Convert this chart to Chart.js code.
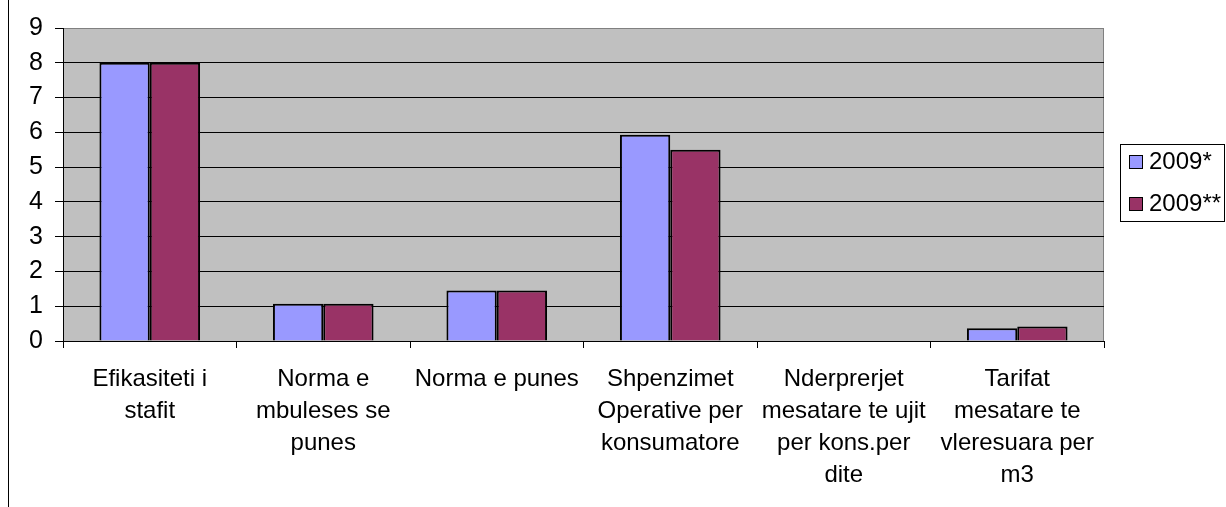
<!DOCTYPE html>
<html>
<head>
<meta charset="utf-8">
<script src="https://cdn.jsdelivr.net/npm/chart.js@4/dist/chart.umd.min.js"></script>
<style>
  html, body { margin: 0; padding: 0; background: #fff; }
  #wrap { width: 1226px; height: 507px; position: relative; }
</style>
</head>
<body>
<div id="wrap"><canvas id="chart" width="1226" height="507"></canvas></div>
<script>
// categories and values
const categories = [
  ["Efikasiteti i", "stafit"],
  ["Norma e", "mbuleses se", "punes"],
  ["Norma e punes"],
  ["Shpenzimet", "Operative per", "konsumatore"],
  ["Nderprerjet", "mesatare te ujit", "per kons.per", "dite"],
  ["Tarifat", "mesatare te", "vleresuara per", "m3"]
];
const seriesNames = ["2009*", "2009**"];
const values2009a = [8, 1.07, 1.45, 5.93, 0, 0.37];
const values2009b = [8, 1.07, 1.45, 5.5, 0, 0.42];
const yTicks = [0, 1, 2, 3, 4, 5, 6, 7, 8, 9];

const colors = ["#9999FF", "#993366"];
const FONT = "'Liberation Sans', Arial, sans-serif";

// grey plot area, frame line and legend box
const decor = {
  id: 'decor',
  beforeDraw(chart) {
    const { ctx, chartArea: a } = chart;
    ctx.save();
    ctx.fillStyle = '#C0C0C0';
    ctx.fillRect(a.left, a.top, a.right - a.left, a.bottom - a.top);
    ctx.strokeStyle = '#808080';
    ctx.lineWidth = 1;
    ctx.beginPath();
    ctx.moveTo(a.left, a.top + 0.5);
    ctx.lineTo(a.right - 0.5, a.top + 0.5);
    ctx.lineTo(a.right - 0.5, a.bottom);
    ctx.stroke();
    // outer frame line on the left
    ctx.strokeStyle = '#000';
    ctx.beginPath();
    ctx.moveTo(8.5, 0);
    ctx.lineTo(8.5, chart.height);
    ctx.stroke();
    ctx.restore();
  },
  afterDraw(chart) {
    const { ctx } = chart;
    ctx.save();
    const bx = 1120.5, by = 144.5, bw = 104, bh = 77;
    ctx.strokeStyle = '#000';
    ctx.lineWidth = 1;
    ctx.strokeRect(bx, by, bw, bh);
    ctx.font = '24px ' + FONT;
    ctx.textBaseline = 'middle';
    chart.data.datasets.forEach((ds, i) => {
      const cy = 162 + i * 42;
      ctx.fillStyle = ds.backgroundColor;
      ctx.fillRect(1129.5, cy - 6.5, 13, 13);
      ctx.strokeRect(1129.5, cy - 6.5, 13, 13);
      ctx.fillStyle = '#000';
      ctx.fillText(ds.label, 1149, cy);
    });
    ctx.restore();
  }
};

new Chart(document.getElementById('chart'), {
  type: 'bar',
  data: {
    labels: categories,
    datasets: [
      { label: seriesNames[0], data: values2009a, backgroundColor: colors[0] },
      { label: seriesNames[1], data: values2009b, backgroundColor: colors[1] }
    ]
  },
  options: {
    responsive: false,
    animation: false,
    devicePixelRatio: 1,
    layout: { padding: { left: 0, top: 28, right: 122, bottom: 0 } },
    datasets: {
      bar: {
        borderColor: '#000',
        borderWidth: 2,
        barPercentage: 1,
        categoryPercentage: 0.58
      }
    },
    plugins: {
      legend: { display: false },
      tooltip: { enabled: false }
    },
    scales: {
      x: {
        afterFit(scale) { scale.height = 166; },
        grid: {
          display: true,
          drawOnChartArea: false,
          drawTicks: true,
          tickLength: 7,
          tickColor: '#000',
          offset: true
        },
        border: { color: '#000', width: 1 },
        ticks: {
          color: '#000',
          padding: 15,
          maxRotation: 0,
          autoSkip: false,
          font: { family: FONT, size: 24, lineHeight: '32px' }
        }
      },
      y: {
        min: yTicks[0],
        max: yTicks[yTicks.length - 1],
        afterFit(scale) { scale.width = 63; },
        afterBuildTicks(scale) { scale.ticks = yTicks.map(v => ({ value: v })); },
        grid: {
          color: ctx => (ctx.tick && ctx.tick.value === 9 ? '#808080' : '#000'),
          tickColor: '#000',
          tickLength: 8,
          lineWidth: 1
        },
        border: { color: '#000', width: 1 },
        ticks: {
          color: '#000',
          padding: 12,
          font: { family: FONT, size: 25 }
        }
      }
    }
  },
  plugins: [decor]
});
</script>
</body>
</html>
